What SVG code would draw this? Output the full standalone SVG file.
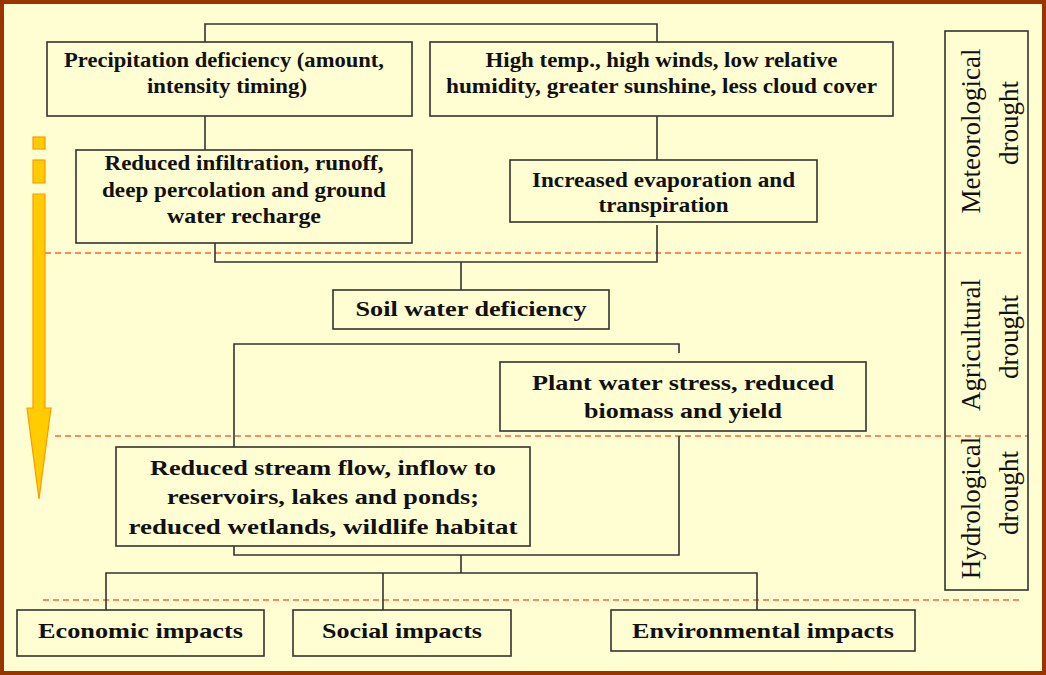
<svg xmlns="http://www.w3.org/2000/svg" width="1046" height="675" viewBox="0 0 1046 675">
  <style>
    .box { fill: none; stroke: #333333; stroke-width: 1.6; }
    .wire { fill: none; stroke: #333333; stroke-width: 1.6; }
    .zone { fill: none; stroke: #FF6633; stroke-width: 1.5; stroke-dasharray: 6 4; }
    .t { font-family: "Liberation Serif", "Times New Roman", serif; font-weight: bold; font-size: 21px; fill: #111111; text-anchor: middle; }
    .v { font-family: "Liberation Serif", "Times New Roman", serif; font-size: 27px; fill: #111111; text-anchor: middle; }
    .arrow { fill: #FFCC00; stroke: #FF9900; stroke-width: 1.2; }
  </style>

  <!-- page background and frame -->
  <rect x="0" y="0" width="1046" height="675" fill="#FFFED2"/>
  <rect x="2" y="2" width="1042" height="671" fill="none" stroke="#993300" stroke-width="4"/>

  <!-- drought zone separators -->
  <g id="zones">
    <line class="zone" x1="45" y1="253" x2="1022" y2="253"/>
    <line class="zone" x1="55" y1="436" x2="1028" y2="436"/>
    <line class="zone" x1="43" y1="600" x2="1020" y2="600"/>
  </g>

  <!-- time progression arrow -->
  <g id="progress-arrow">
    <rect class="arrow" x="33" y="137" width="12" height="12"/>
    <rect class="arrow" x="33" y="160" width="12" height="23"/>
    <path class="arrow" d="M33 194 H45 V408 H51 L39 499 L27 408 H33 Z"/>
  </g>

  <!-- connectors -->
  <g id="connectors">
    <polyline class="wire" points="205,42 205,24 657,24 657,42"/>
    <line class="wire" x1="205" y1="116" x2="205" y2="150"/>
    <line class="wire" x1="657" y1="116" x2="657" y2="160"/>
    <polyline class="wire" points="215,243 215,262 657,262 657,225"/>
    <line class="wire" x1="461" y1="262" x2="461" y2="290"/>
    <polyline class="wire" points="234,447 234,344 679,344 679,353"/>
    <polyline class="wire" points="234,546 234,555 679,555 679,436"/>
    <line class="wire" x1="461" y1="555" x2="461" y2="573"/>
    <polyline class="wire" points="106,610 106,573 757,573 757,610"/>
    <line class="wire" x1="383" y1="573" x2="383" y2="610"/>
  </g>

  <g id="precipitation">
    <rect class="box" x="47" y="42" width="365" height="74"/>
    <text class="t" x="224" y="67" textLength="320" lengthAdjust="spacingAndGlyphs">Precipitation deficiency (amount,</text>
    <text class="t" x="227" y="93" textLength="160" lengthAdjust="spacingAndGlyphs">intensity timing)</text>
  </g>

  <g id="weather">
    <rect class="box" x="430" y="42" width="463" height="74"/>
    <text class="t" x="661.5" y="67" textLength="352" lengthAdjust="spacingAndGlyphs">High temp., high winds, low relative</text>
    <text class="t" x="661.5" y="93" textLength="431" lengthAdjust="spacingAndGlyphs">humidity, greater sunshine, less cloud cover</text>
  </g>

  <g id="infiltration">
    <rect class="box" x="76" y="150" width="336" height="93"/>
    <text class="t" x="244" y="170" textLength="279" lengthAdjust="spacingAndGlyphs">Reduced infiltration, runoff,</text>
    <text class="t" x="244" y="197" textLength="284" lengthAdjust="spacingAndGlyphs">deep percolation and ground</text>
    <text class="t" x="244" y="223" textLength="154" lengthAdjust="spacingAndGlyphs">water recharge</text>
  </g>

  <g id="evaporation">
    <rect class="box" x="510" y="160" width="307" height="62"/>
    <text class="t" x="663.5" y="187" textLength="263" lengthAdjust="spacingAndGlyphs">Increased evaporation and</text>
    <text class="t" x="663.5" y="212" textLength="130" lengthAdjust="spacingAndGlyphs">transpiration</text>
  </g>

  <g id="soil-water">
    <rect class="box" x="333" y="290" width="276" height="39"/>
    <text class="t" x="471" y="316" textLength="231" lengthAdjust="spacingAndGlyphs">Soil water deficiency</text>
  </g>

  <g id="plant-stress">
    <rect class="box" x="500" y="362" width="366" height="69"/>
    <text class="t" x="683" y="390" textLength="302" lengthAdjust="spacingAndGlyphs">Plant water stress, reduced</text>
    <text class="t" x="683" y="418" textLength="198" lengthAdjust="spacingAndGlyphs">biomass and yield</text>
  </g>

  <g id="stream-flow">
    <rect class="box" x="116" y="447" width="414" height="99"/>
    <text class="t" x="323" y="475" textLength="346" lengthAdjust="spacingAndGlyphs">Reduced stream flow, inflow to</text>
    <text class="t" x="323" y="504" textLength="312" lengthAdjust="spacingAndGlyphs">reservoirs, lakes and ponds;</text>
    <text class="t" x="323" y="534" textLength="389" lengthAdjust="spacingAndGlyphs">reduced wetlands, wildlife habitat</text>
  </g>

  <g id="economic">
    <rect class="box" x="17" y="610" width="247" height="46"/>
    <text class="t" x="140.5" y="638" textLength="205" lengthAdjust="spacingAndGlyphs">Economic impacts</text>
  </g>

  <g id="social">
    <rect class="box" x="293" y="610" width="218" height="46"/>
    <text class="t" x="402" y="638" textLength="160" lengthAdjust="spacingAndGlyphs">Social impacts</text>
  </g>

  <g id="environmental">
    <rect class="box" x="611" y="610" width="304" height="41"/>
    <text class="t" x="763" y="638" textLength="262" lengthAdjust="spacingAndGlyphs">Environmental impacts</text>
  </g>

  <g id="drought-types">
    <rect class="box" x="945" y="31" width="83" height="559"/>
    <text class="v" transform="translate(980,131) rotate(-90)">Meteorological</text>
    <text class="v" transform="translate(1018,123) rotate(-90)">drought</text>
    <text class="v" transform="translate(980,345) rotate(-90)">Agricultural</text>
    <text class="v" transform="translate(1018,337) rotate(-90)">drought</text>
    <text class="v" transform="translate(980,508) rotate(-90)">Hydrological</text>
    <text class="v" transform="translate(1018,493) rotate(-90)">drought</text>
  </g>
</svg>
